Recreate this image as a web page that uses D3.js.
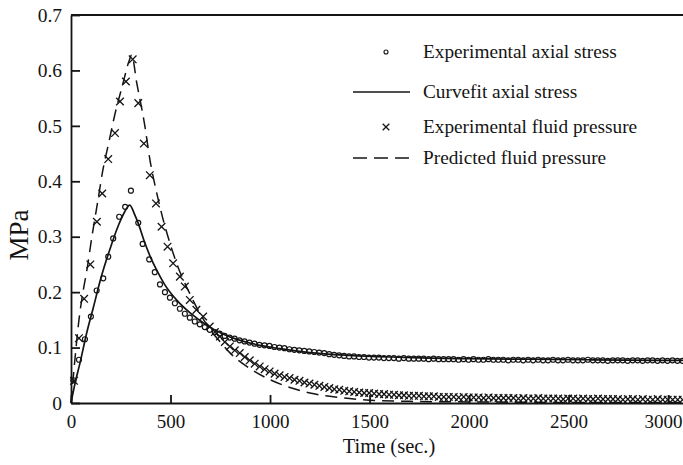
<!DOCTYPE html>
<html>
<head>
<meta charset="utf-8">
<script src="https://cdn.jsdelivr.net/npm/d3@7"></script>
<style>
body { margin: 0; background: #fff; }
svg text { font-family: "Liberation Serif", "DejaVu Serif", serif; fill: #141414; }
</style>
</head>
<body>
<div id="chart"></div>
<script>
// experimental axial stress (circles), [time, MPa]
var exp_stress = [[12,0.041],[40,0.078],[70,0.115],[100,0.156],[129,0.203],[162,0.225],[187,0.264],[212,0.297],[242,0.336],[272,0.354],[301,0.383],
  [338,0.325],[360,0.287],[393,0.259],[421,0.236],[447,0.214],[472,0.2],[497,0.19],[522,0.18],[547,0.17],[572,0.161],[597,0.154],[622,0.147],
  [647,0.142],[672,0.137],[697,0.132],[722,0.128],[747,0.125],[772,0.121],[797,0.118],[822,0.116],[847,0.113],[872,0.111],[897,0.109],[922,0.107],
  [947,0.105],[972,0.104],[997,0.103],[1022,0.101],[1047,0.1],[1072,0.099],[1097,0.097],[1122,0.096],[1147,0.095],[1172,0.094],[1197,0.093],
  [1222,0.092],[1247,0.091],[1272,0.09],[1297,0.088],[1322,0.087],[1347,0.086],[1372,0.085],[1397,0.084],[1422,0.084],[1447,0.083],[1472,0.083],
  [1497,0.082],[1522,0.082],[1547,0.082],[1572,0.081],[1597,0.081],[1622,0.081],[1647,0.08],[1672,0.081],[1697,0.08],[1722,0.08],[1747,0.08],
  [1772,0.08],[1797,0.079],[1822,0.08],[1847,0.079],[1872,0.079],[1897,0.079],[1922,0.079],[1947,0.078],[1972,0.079],[1997,0.078],[2022,0.079],
  [2047,0.078],[2072,0.078],[2097,0.079],[2122,0.078],[2147,0.078],[2172,0.078],[2197,0.077],[2222,0.078],[2247,0.078],[2272,0.077],[2297,0.078],
  [2322,0.077],[2347,0.078],[2372,0.077],[2397,0.077],[2422,0.078],[2447,0.077],[2472,0.077],[2497,0.078],[2522,0.077],[2547,0.077],[2572,0.077],
  [2597,0.078],[2622,0.077],[2647,0.077],[2672,0.077],[2697,0.076],[2722,0.077],[2747,0.077],[2772,0.077],[2797,0.076],[2822,0.077],[2847,0.077],
  [2872,0.076],[2897,0.077],[2922,0.077],[2947,0.076],[2972,0.077],[2997,0.076],[3022,0.077],[3047,0.076],[3072,0.076]];

// curvefit axial stress (solid line)
var fit_stress = [[0,0],[20,0.035],[45,0.072],[80,0.128],[112,0.172],[150,0.225],[196,0.278],[240,0.322],[270,0.345],[295,0.357],[320,0.34],
  [338,0.324],[365,0.295],[396,0.266],[430,0.24],[470,0.214],[530,0.186],[600,0.162],[680,0.141],[760,0.125],[850,0.113],[950,0.104],[1050,0.098],
  [1200,0.091],[1400,0.086],[1600,0.083],[1800,0.081],[2000,0.08],[2300,0.079],[2600,0.078],[3000,0.077],[3100,0.077]];

// experimental fluid pressure (crosses)
var exp_fluid = [[15,0.04],[40,0.117],[66,0.188],[97,0.25],[130,0.327],[157,0.378],[187,0.44],[221,0.487],[246,0.544],[276,0.58],[310,0.62],
  [338,0.541],[366,0.468],[396,0.411],[427,0.36],[455,0.318],[485,0.282],[513,0.252],[547,0.228],[572,0.21],[597,0.186],[630,0.168],[664,0.156],
  [697,0.138],[723,0.128],[748,0.12],[773,0.11],[798,0.102],[823,0.095],[848,0.09],[873,0.083],[898,0.077],[923,0.071],[948,0.066],[973,0.061],
  [998,0.057],[1023,0.053],[1048,0.05],[1073,0.047],[1098,0.045],[1123,0.042],[1148,0.04],[1173,0.037],[1198,0.035],[1223,0.033],[1248,0.031],
  [1273,0.029],[1298,0.027],[1323,0.025],[1348,0.024],[1373,0.022],[1398,0.021],[1423,0.02],[1448,0.019],[1473,0.018],[1498,0.018],[1523,0.017],
  [1548,0.016],[1573,0.016],[1598,0.015],[1623,0.015],[1648,0.014],[1673,0.014],[1698,0.013],[1723,0.013],[1748,0.013],[1773,0.012],[1798,0.012],
  [1823,0.012],[1848,0.011],[1873,0.011],[1898,0.011],[1923,0.011],[1948,0.01],[1973,0.011],[1998,0.01],[2023,0.01],[2048,0.01],[2073,0.009],
  [2098,0.01],[2123,0.009],[2148,0.009],[2173,0.009],[2198,0.009],[2223,0.009],[2248,0.008],[2273,0.009],[2298,0.008],[2323,0.008],[2348,0.009],
  [2373,0.008],[2398,0.008],[2423,0.008],[2448,0.008],[2473,0.007],[2498,0.008],[2523,0.008],[2548,0.007],[2573,0.008],[2598,0.007],[2623,0.007],
  [2648,0.008],[2673,0.007],[2698,0.007],[2723,0.007],[2748,0.007],[2773,0.006],[2798,0.007],[2823,0.007],[2848,0.006],[2873,0.007],[2898,0.006],
  [2923,0.006],[2948,0.007],[2973,0.006],[2998,0.006],[3023,0.006],[3048,0.006],[3073,0.006]];

// predicted fluid pressure (dashed line)
var pred_fluid = [[0,0],[20,0.08],[40,0.15],[60,0.2],[80,0.24],[105,0.3],[135,0.365],[160,0.42],[190,0.47],[220,0.52],[260,0.575],[290,0.615],
  [305,0.628],[330,0.578],[371,0.5],[396,0.44],[430,0.38],[460,0.335],[500,0.285],[537,0.246],[600,0.195],[650,0.16],[700,0.132],[750,0.11],
  [800,0.09],[900,0.062],[1000,0.042],[1100,0.028],[1200,0.018],[1300,0.012],[1400,0.008],[1500,0.005],[1700,0.003],[2000,0.002],[2500,0.001],[3100,0.001]];

var x_ticks = [0, 500, 1000, 1500, 2000, 2500, 3000];
var x_labels = ["0", "500", "1000", "1500", "2000", "2500", "3000"];
var y_ticks = [0, 0.1, 0.2, 0.3, 0.4, 0.5, 0.6, 0.7];
var y_labels = ["0", "0.1", "0.2", "0.3", "0.4", "0.5", "0.6", "0.7"];
var legend_labels = ["Experimental axial stress", "Curvefit axial stress", "Experimental fluid pressure", "Predicted fluid pressure"];

var width = 683, height = 465;
var ink = "#141414";

var svg = d3.select("#chart").append("svg").attr("width", width).attr("height", height);

var x = d3.scaleLinear().domain([0, 3100]).range([71, 688]);
var y = d3.scaleLinear().domain([0, 0.7]).range([403, 15]);

// axes, ticks pointing inward
var x_axis = svg.append("g").attr("transform", "translate(0," + y(0) + ")")
    .call(d3.axisBottom(x).tickValues(x_ticks).tickSizeInner(-8).tickSizeOuter(0)
        .tickFormat((d, i) => x_labels[i]));
x_axis.selectAll("text").attr("y", 12).attr("dy", "0.71em").attr("font-size", "19px");
// the last label sits at the right edge of the page, keep it inside
x_axis.selectAll("text").filter(d => d == 3000).attr("text-anchor", "end").attr("x", width - 1 - x(3000));

var y_axis = svg.append("g").attr("transform", "translate(" + x(0) + ",0)")
    .call(d3.axisLeft(y).tickValues(y_ticks).tickSizeInner(-9).tickSizeOuter(0)
        .tickFormat((d, i) => y_labels[i]));
y_axis.selectAll("text").attr("x", -9).attr("font-size", "19.5px");

svg.selectAll(".domain, .tick line").attr("stroke", ink).attr("stroke-width", 1.8);

// top frame line
svg.append("line")
    .attr("x1", x(0)).attr("x2", x(3100)).attr("y1", y(0.7)).attr("y2", y(0.7))
    .attr("stroke", ink).attr("stroke-width", 1.8);

var plot = svg.append("g");

var line = d3.line().x(d => x(d[0])).y(d => y(d[1])).curve(d3.curveMonotoneX);

plot.append("path").datum(fit_stress)
    .attr("d", line).attr("fill", "none").attr("stroke", ink).attr("stroke-width", 1.7);

plot.append("path").datum(pred_fluid)
    .attr("d", line).attr("fill", "none").attr("stroke", ink).attr("stroke-width", 1.5)
    .attr("stroke-dasharray", "12,7");

plot.selectAll("circle.exp")
    .data(exp_stress)
    .enter()
    .append("circle")
    .attr("class", "exp")
    .attr("cx", d => x(d[0])).attr("cy", d => y(d[1]))
    .attr("r", 2.5)
    .attr("fill", "none").attr("stroke", ink).attr("stroke-width", 1.2);

function cross(sel, s) {
    sel.append("path")
        .attr("d", "M" + (-s) + "," + (-s) + "L" + s + "," + s + "M" + (-s) + "," + s + "L" + s + "," + (-s))
        .attr("stroke", ink).attr("stroke-width", 1.3).attr("fill", "none");
}

plot.selectAll("g.cross")
    .data(exp_fluid)
    .enter()
    .append("g")
    .attr("class", "cross")
    .attr("transform", d => "translate(" + x(d[0]) + "," + y(d[1]) + ")")
    .call(cross, 3.8);

// legend
var legend = svg.append("g");
var row_y = [52, 92, 127, 158];
legend.selectAll("text")
    .data(legend_labels)
    .enter()
    .append("text")
    .attr("x", 423)
    .attr("y", (d, i) => row_y[i] + 6)
    .attr("font-size", "19.3px")
    .text(d => d);

legend.append("circle").attr("cx", 386).attr("cy", row_y[0])
    .attr("r", 2).attr("fill", "none").attr("stroke", ink).attr("stroke-width", 1.1);
legend.append("line").attr("x1", 353).attr("x2", 410).attr("y1", row_y[1]).attr("y2", row_y[1])
    .attr("stroke", ink).attr("stroke-width", 1.6);
legend.append("g").attr("transform", "translate(386," + row_y[2] + ")").call(cross, 3.3);
legend.append("line").attr("x1", 353).attr("x2", 410).attr("y1", row_y[3]).attr("y2", row_y[3])
    .attr("stroke", ink).attr("stroke-width", 1.5).attr("stroke-dasharray", "14,7");

// axis titles
svg.append("text")
    .attr("x", 389).attr("y", 453)
    .attr("text-anchor", "middle")
    .attr("font-size", "20.5px")
    .text("Time (sec.)");

svg.append("text")
    .attr("transform", "translate(28,235) rotate(-90)")
    .attr("text-anchor", "middle")
    .attr("font-size", "27px")
    .text("MPa");
</script>
</body>
</html>
